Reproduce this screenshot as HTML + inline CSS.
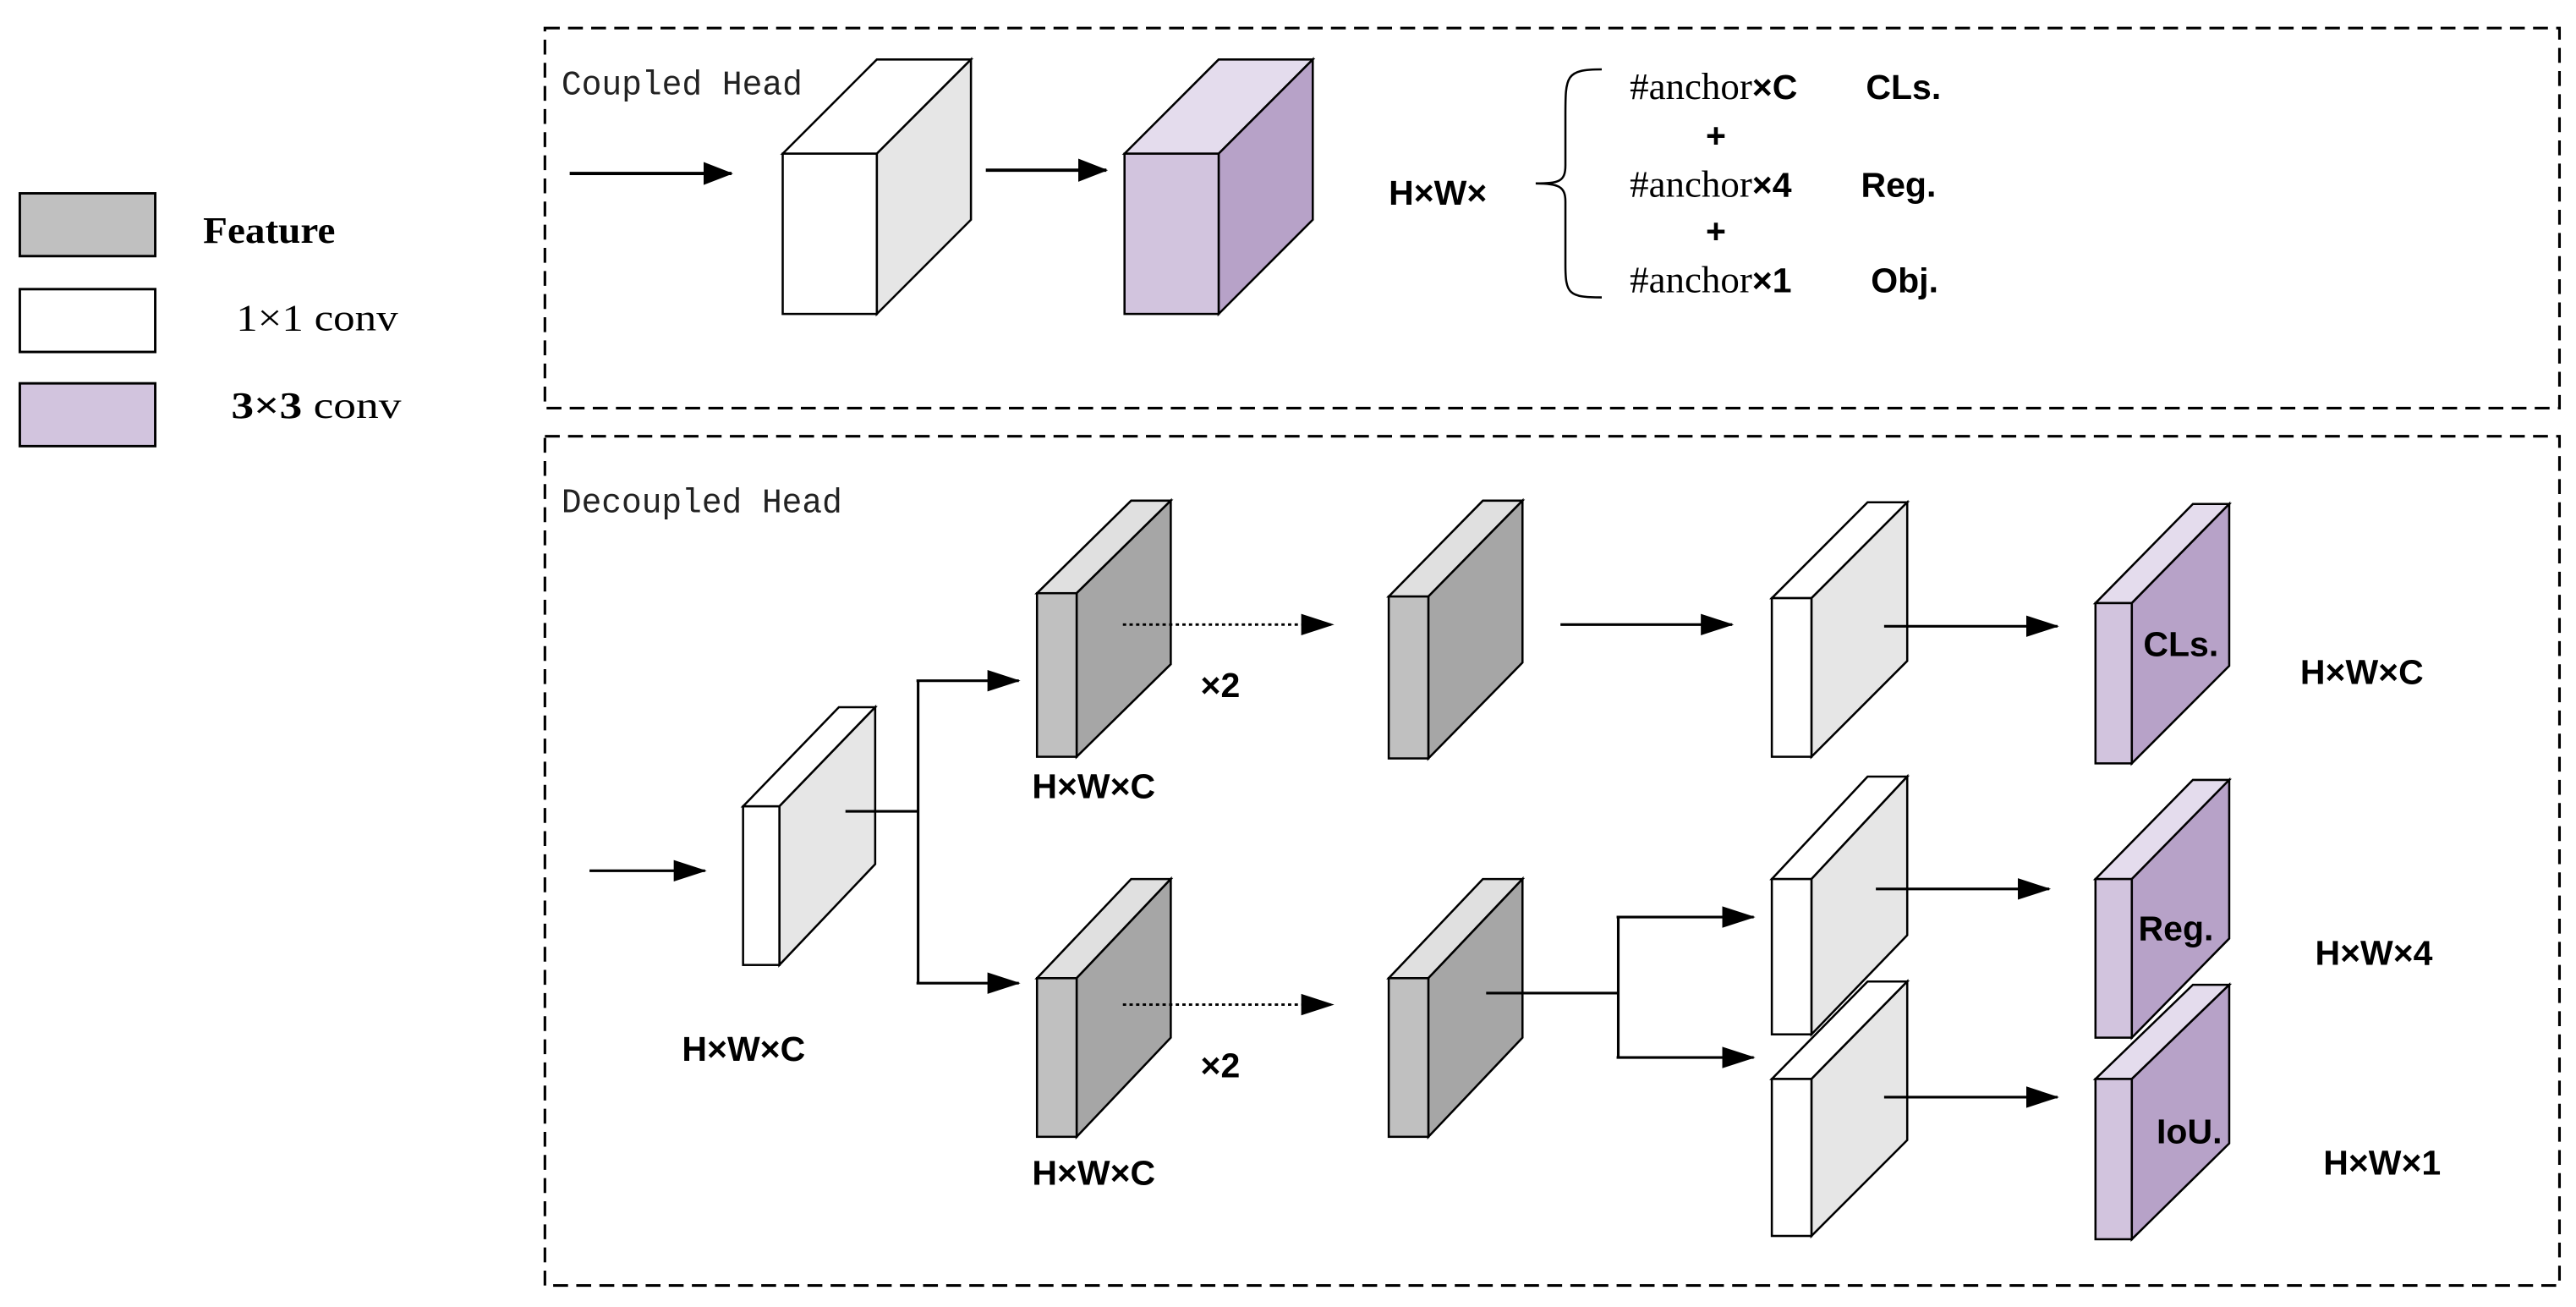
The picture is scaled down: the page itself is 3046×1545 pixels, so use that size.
<!DOCTYPE html>
<html><head><meta charset="utf-8"><style>html,body{margin:0;padding:0;background:#fff}svg{display:block}</style></head>
<body>
<svg width="3046" height="1545" viewBox="0 0 1560 791" preserveAspectRatio="none" xmlns="http://www.w3.org/2000/svg">
<defs>
<marker id="ar" markerWidth="20" markerHeight="14" refX="19" refY="7" orient="auto" markerUnits="userSpaceOnUse"><path d="M0,0.5 L20,7 L0,13.5 z" fill="#000"/></marker>
<marker id="ab" markerWidth="18" markerHeight="14" refX="17" refY="7" orient="auto" markerUnits="userSpaceOnUse"><path d="M0,0 L18,7 L0,14 z" fill="#000"/></marker>
</defs>
<style>
.s{font-family:"Liberation Sans",Arial,sans-serif;font-weight:bold;font-size:21px}
.m{font-family:"Liberation Mono","DejaVu Sans Mono",monospace;font-size:21px;fill:#222}
.r{font-family:"Liberation Serif",serif;font-size:23px}
.e{stroke:#000;stroke-width:1.3}
</style>
<!-- legend -->
<rect x="12" y="117" width="82" height="38" fill="#c0c0c0" stroke="#000" stroke-width="1.5"/>
<rect x="12" y="175" width="82" height="38" fill="#fff" stroke="#000" stroke-width="1.5"/>
<rect x="12" y="232" width="82" height="38" fill="#d2c4de" stroke="#000" stroke-width="1.5"/>
<text x="123" y="147" class="r" font-weight="bold" textLength="80" lengthAdjust="spacingAndGlyphs">Feature</text>
<text x="143" y="200" class="r" textLength="98" lengthAdjust="spacingAndGlyphs">1×1 conv</text>
<text x="140" y="253" class="r" textLength="103" lengthAdjust="spacingAndGlyphs"><tspan font-weight="bold">3×3</tspan> conv</text>

<!-- coupled -->
<rect x="330" y="17" width="1220" height="230" fill="none" stroke="#000" stroke-width="1.6" stroke-dasharray="9,5"/>
<text x="340" y="57" class="m" textLength="146" lengthAdjust="spacingAndGlyphs">Coupled Head</text>
<line x1="345" y1="105" x2="443" y2="105" stroke="#000" stroke-width="2" marker-end="url(#ab)"/>
<g class="e">
<polygon points="474,93 531,36 588,36 531,93" fill="#fff"/>
<polygon points="531,93 588,36 588,133 531,190" fill="#e6e6e6"/>
<rect x="474" y="93" width="57" height="97" fill="#fff"/>
</g>
<line x1="597" y1="103" x2="670" y2="103" stroke="#000" stroke-width="2" marker-end="url(#ab)"/>
<g class="e">
<polygon points="681,93 738,36 795,36 738,93" fill="#e4dced"/>
<polygon points="738,93 795,36 795,133 738,190" fill="#b7a2c8"/>
<rect x="681" y="93" width="57" height="97" fill="#d2c4de"/>
</g>
<text x="841" y="124" class="s">H×W×</text>
<path d="M970,42 C948,42 948,46 948,70 L948,100 C948,110 944,111 930,111 C944,111 948,113 948,122 L948,160 C948,178 950,180 970,180" fill="none" stroke="#000" stroke-width="1.3"/>
<text x="987" y="60" class="r" font-size="21">#anchor<tspan class="s">×C</tspan></text>
<text x="1130" y="60" class="s">CLs.</text>
<text x="1033" y="89" class="s">+</text>
<text x="987" y="119" class="r" font-size="21">#anchor<tspan class="s">×4</tspan></text>
<text x="1127" y="119" class="s">Reg.</text>
<text x="1033" y="147" class="s">+</text>
<text x="987" y="177" class="r" font-size="21">#anchor<tspan class="s">×1</tspan></text>
<text x="1133" y="177" class="s">Obj.</text>

<!-- decoupled -->
<rect x="330" y="264" width="1220" height="514" fill="none" stroke="#000" stroke-width="1.6" stroke-dasharray="9,5"/>
<text x="340" y="310" class="m" textLength="170" lengthAdjust="spacingAndGlyphs">Decoupled Head</text>
<line x1="357" y1="527" x2="427" y2="527" stroke="#000" stroke-width="1.6" marker-end="url(#ar)"/>
<g class="e">
<polygon points="450,488 508,428 530,428 472,488" fill="#fff"/>
<polygon points="472,488 530,428 530,523 472,584" fill="#e6e6e6"/>
<rect x="450" y="488" width="22" height="96" fill="#fff"/>
</g>
<polyline points="512,491 556,491" fill="none" stroke="#000" stroke-width="1.6"/>
<polyline points="556,412 556,595" fill="none" stroke="#000" stroke-width="1.6"/>
<line x1="555" y1="412" x2="617" y2="412" stroke="#000" stroke-width="1.6" marker-end="url(#ar)"/>
<line x1="555" y1="595" x2="617" y2="595" stroke="#000" stroke-width="1.6" marker-end="url(#ar)"/>
<text x="413" y="642" class="s" font-size="22">H×W×C</text>
<g class="e">
<polygon points="628,359 685,303 709,303 652,359" fill="#e0e0e0"/>
<polygon points="652,359 709,303 709,402 652,458" fill="#a6a6a6"/>
<rect x="628" y="359" width="24" height="99" fill="#c0c0c0"/>
<polygon points="628,592 685,532 709,532 652,592" fill="#e0e0e0"/>
<polygon points="652,592 709,532 709,628 652,688" fill="#a6a6a6"/>
<rect x="628" y="592" width="24" height="96" fill="#c0c0c0"/>
<polygon points="841,361 898,303 922,303 865,361" fill="#e0e0e0"/>
<polygon points="865,361 922,303 922,401 865,459" fill="#a6a6a6"/>
<rect x="841" y="361" width="24" height="98" fill="#c0c0c0"/>
<polygon points="841,592 898,532 922,532 865,592" fill="#e0e0e0"/>
<polygon points="865,592 922,532 922,628 865,688" fill="#a6a6a6"/>
<rect x="841" y="592" width="24" height="96" fill="#c0c0c0"/>
</g>
<line x1="680" y1="378" x2="807" y2="378" stroke="#000" stroke-width="1.5" stroke-dasharray="2,2" marker-end="url(#ar)"/>
<line x1="680" y1="608" x2="807" y2="608" stroke="#000" stroke-width="1.5" stroke-dasharray="2,2" marker-end="url(#ar)"/>
<text x="727" y="422" class="s" font-size="19">×2</text>
<text x="727" y="652" class="s" font-size="19">×2</text>
<text x="625" y="483" class="s" font-size="22">H×W×C</text>
<text x="625" y="717" class="s" font-size="22">H×W×C</text>
<line x1="945" y1="378" x2="1049" y2="378" stroke="#000" stroke-width="1.6" marker-end="url(#ar)"/>
<polyline points="900,601 980,601" fill="none" stroke="#000" stroke-width="1.6"/>
<polyline points="980,555 980,640" fill="none" stroke="#000" stroke-width="1.6"/>
<line x1="979" y1="555" x2="1062" y2="555" stroke="#000" stroke-width="1.6" marker-end="url(#ar)"/>
<line x1="979" y1="640" x2="1062" y2="640" stroke="#000" stroke-width="1.6" marker-end="url(#ar)"/>
<g class="e">
<polygon points="1073,362 1131,304 1155,304 1097,362" fill="#fff"/>
<polygon points="1097,362 1155,304 1155,400 1097,458" fill="#e6e6e6"/>
<rect x="1073" y="362" width="24" height="96" fill="#fff"/>
<polygon points="1073,532 1131,470 1155,470 1097,532" fill="#fff"/>
<polygon points="1097,532 1155,470 1155,566 1097,626" fill="#e6e6e6"/>
<rect x="1073" y="532" width="24" height="94" fill="#fff"/>
<polygon points="1073,653 1131,594 1155,594 1097,653" fill="#fff"/>
<polygon points="1097,653 1155,594 1155,690 1097,748" fill="#e6e6e6"/>
<rect x="1073" y="653" width="24" height="95" fill="#fff"/>
</g>
<line x1="1141" y1="379" x2="1246" y2="379" stroke="#000" stroke-width="1.6" marker-end="url(#ar)"/>
<line x1="1136" y1="538" x2="1241" y2="538" stroke="#000" stroke-width="1.6" marker-end="url(#ar)"/>
<line x1="1141" y1="664" x2="1246" y2="664" stroke="#000" stroke-width="1.6" marker-end="url(#ar)"/>
<g class="e">
<polygon points="1269,365 1328,305 1350,305 1291,365" fill="#e4dced"/>
<polygon points="1291,365 1350,305 1350,403 1291,462" fill="#b7a2c8"/>
<rect x="1269" y="365" width="22" height="97" fill="#d2c4de"/>
<polygon points="1269,532 1328,472 1350,472 1291,532" fill="#e4dced"/>
<polygon points="1291,532 1350,472 1350,568 1291,628" fill="#b7a2c8"/>
<rect x="1269" y="532" width="22" height="96" fill="#d2c4de"/>
<polygon points="1269,653 1328,596 1350,596 1291,653" fill="#e4dced"/>
<polygon points="1291,653 1350,596 1350,692 1291,750" fill="#b7a2c8"/>
<rect x="1269" y="653" width="22" height="97" fill="#d2c4de"/>
</g>
<text x="1298" y="397" class="s">CLs.</text>
<text x="1295" y="569" class="s">Reg.</text>
<text x="1306" y="692" class="s">IoU.</text>
<text x="1393" y="414" class="s" font-size="22">H×W×C</text>
<text x="1402" y="584" class="s" font-size="22">H×W×4</text>
<text x="1407" y="711" class="s" font-size="22">H×W×1</text>
</svg>
</body></html>
